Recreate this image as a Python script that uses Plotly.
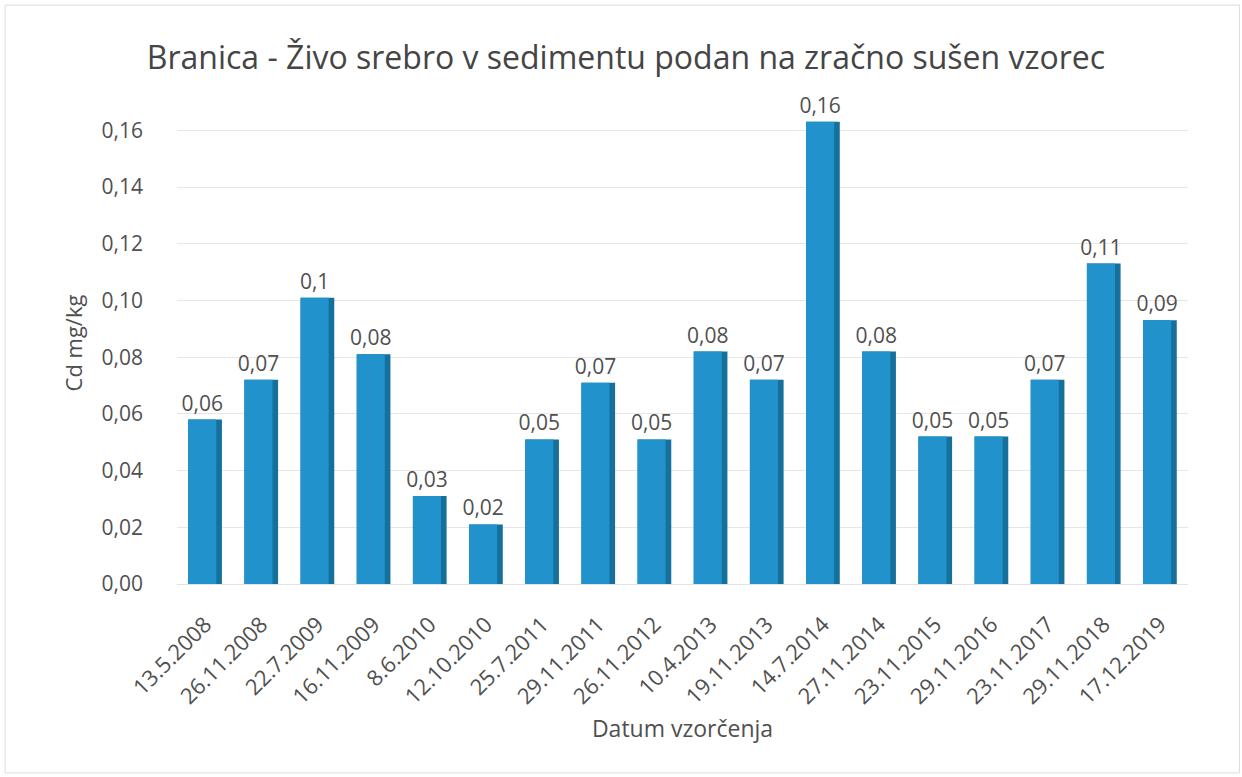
import plotly.graph_objects as go

dates = ["13.5.2008", "26.11.2008", "22.7.2009", "16.11.2009", "8.6.2010", "12.10.2010",
         "25.7.2011", "29.11.2011", "26.11.2012", "10.4.2013", "19.11.2013", "14.7.2014",
         "27.11.2014", "23.11.2015", "29.11.2016", "23.11.2017", "29.11.2018", "17.12.2019"]
values = [0.058, 0.072, 0.101, 0.081, 0.031, 0.021, 0.051, 0.071, 0.051, 0.082,
          0.072, 0.163, 0.082, 0.052, 0.052, 0.072, 0.113, 0.093]
labels = ["0,06", "0,07", "0,1", "0,08", "0,03", "0,02", "0,05", "0,07", "0,05", "0,08",
          "0,07", "0,16", "0,08", "0,05", "0,05", "0,07", "0,11", "0,09"]
y_ticks = [0, 0.02, 0.04, 0.06, 0.08, 0.10, 0.12, 0.14, 0.16]
y_ticktext = ["0,00", "0,02", "0,04", "0,06", "0,08", "0,10", "0,12", "0,14", "0,16"]

FONT = "Open Sans"
TXT = "#505050"

fig = go.Figure()
# darker side face (pseudo-3D depth)
fig.add_trace(go.Bar(
    x=dates, y=values, width=0.6, offset=-0.3,
    marker=dict(color="#15709c", line=dict(width=0)),
    hoverinfo="skip", showlegend=False,
))
# front face
fig.add_trace(go.Bar(
    x=dates, y=values, width=0.5, offset=-0.3,
    marker=dict(color="#2192cc", line=dict(width=0)),
    text=labels, textposition="outside", cliponaxis=False, constraintext="none",
    textfont=dict(family=FONT, size=21, color=TXT),
    showlegend=False,
))

fig.update_layout(
    width=1242, height=777,
    margin=dict(l=177, r=54, t=102, b=193),
    barmode="overlay",
    paper_bgcolor="white", plot_bgcolor="white",
    font=dict(family=FONT, color=TXT),
    title=dict(text="Branica - Živo srebro v sedimentu podan na zračno sušen vzorec",
               x=0.504, xanchor="center", y=0.925, yanchor="middle",
               font=dict(family=FONT, size=32, color="#454545")),
    xaxis=dict(
        type="category", tickangle=-45, showgrid=False,
        tickfont=dict(family=FONT, size=22, color=TXT),
        ticks="", showline=True, linecolor="#e3e3e3", linewidth=1,
        ticklabelstandoff=18,
        title=dict(text="Datum vzorčenja", font=dict(family=FONT, size=23, color=TXT), standoff=12),
    ),
    yaxis=dict(
        range=[0, 0.17], tickvals=y_ticks, ticktext=y_ticktext,
        showgrid=True, gridcolor="#e6e6e6", gridwidth=1, zeroline=False,
        tickfont=dict(family=FONT, size=21, color=TXT),
        ticklabelstandoff=33,
        title=dict(text="Cd mg/kg", font=dict(family=FONT, size=22, color=TXT), standoff=12),
    ),
    shapes=[dict(type="rect", xref="paper", yref="paper",
                 x0=-0.170, x1=1.051, y0=-0.392, y1=1.201,
                 line=dict(color="#dcdcdc", width=1), fillcolor="rgba(0,0,0,0)", layer="below")],
)

fig.write_html("out.html", config={"displayModeBar": False},
               post_script="document.body.style.margin='0';")
